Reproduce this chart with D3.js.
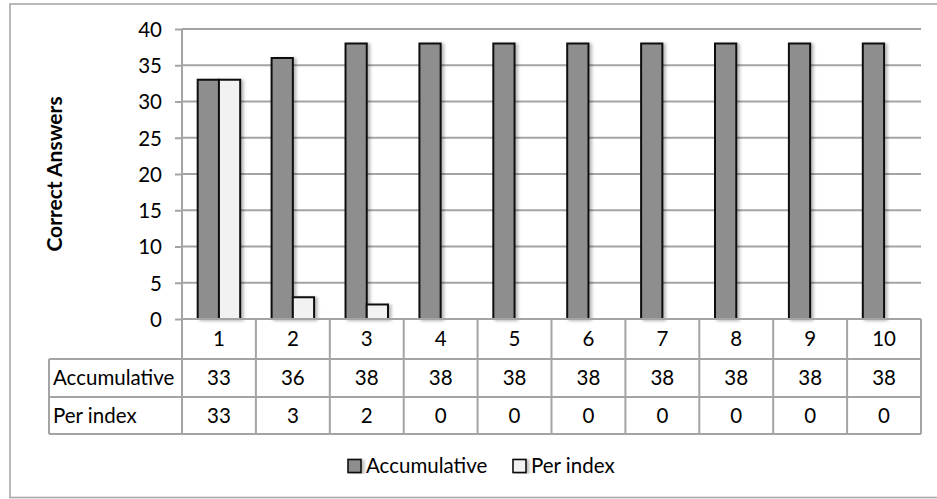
<!DOCTYPE html>
<html>
<head>
<meta charset="utf-8">
<script src="https://cdn.jsdelivr.net/npm/d3@7/dist/d3.min.js"></script>
<style>
  html, body { margin: 0; padding: 0; background: #fff; }
  svg { display: block; font-family: Lato, "Open Sans", sans-serif; }
</style>
</head>
<body>
<svg id="chart" width="937" height="499"></svg>
<script>
// Correct answers by index, cumulative and per index
const categories = ["1", "2", "3", "4", "5", "6", "7", "8", "9", "10"];
const accumulative = [33, 36, 38, 38, 38, 38, 38, 38, 38, 38];
const perIndex = [33, 3, 2, 0, 0, 0, 0, 0, 0, 0];
const yTicks = [0, 5, 10, 15, 20, 25, 30, 35, 40];
const seriesNames = ["Accumulative", "Per index"];
const seriesValues = [accumulative, perIndex];
const seriesColors = ["#8e8e8e", "#f2f2f2"];

const svg = d3.select("#chart");
const gridColor = "#a4a4a4";
const fontSize = 20.5;

const plot = { left: 182, right: 921, top: 29, bottom: 319 };
const rowLines = [319, 359, 397, 434];
const tableLeft = 49;

const x = d3.scaleBand().domain(categories).range([plot.left, plot.right]).paddingInner(0).paddingOuter(0);
const xs = d3.scaleBand().domain(seriesNames).range([0, x.bandwidth()]).paddingInner(0).paddingOuter(0.74);
const y = d3.scaleLinear().domain([0, 40]).range([plot.bottom, plot.top]);

const defs = svg.append("defs");
const shadow = defs.append("filter").attr("id", "barShadow")
  .attr("x", "-30%").attr("y", "-10%").attr("width", "170%").attr("height", "120%");
shadow.append("feDropShadow").attr("dx", 2.5).attr("dy", 1).attr("stdDeviation", 1.6)
  .attr("flood-color", "#000").attr("flood-opacity", 0.28);

// outer chart frame
svg.append("rect")
  .attr("x", 10).attr("y", 4).attr("width", 940).attr("height", 493.5)
  .attr("fill", "#fff").attr("stroke", "#a8a8a8").attr("stroke-width", 1.6);

// y axis with gridlines
const yAxis = d3.axisLeft(y).tickValues(yTicks).tickSize(7).tickPadding(13);
const yg = svg.append("g").attr("transform", `translate(${plot.left},0)`).call(yAxis);
yg.select(".domain").attr("stroke", gridColor).attr("stroke-width", 2)
  .attr("d", `M0,${plot.top}V${plot.bottom}`);
yg.selectAll(".tick line").attr("stroke", gridColor).attr("stroke-width", 2);
yg.selectAll(".tick text").attr("font-size", fontSize).attr("fill", "#000")
  .attr("font-family", "Lato, sans-serif").attr("dy", "0.36em");

svg.append("g").selectAll("line").data(yTicks.filter(t => t > 0)).join("line")
  .attr("x1", plot.left).attr("x2", plot.right)
  .attr("y1", d => y(d)).attr("y2", d => y(d))
  .attr("stroke", gridColor).attr("stroke-width", 2);

// bars
const barG = svg.append("g").attr("filter", "url(#barShadow)");
seriesNames.forEach((name, si) => {
  barG.append("g").selectAll("rect").data(seriesValues[si]).join("rect")
    .attr("x", (d, i) => x(categories[i]) + xs(name))
    .attr("y", d => y(d))
    .attr("width", xs.bandwidth())
    .attr("height", d => y(0) - y(d))
    .attr("fill", seriesColors[si])
    .attr("stroke", "#111")
    .attr("stroke-width", d => d > 0 ? 2 : 0);
});

// data table below the axis
const table = svg.append("g");
const hLines = [
  { y: rowLines[0], x1: plot.left, x2: plot.right },
  { y: rowLines[1], x1: tableLeft, x2: plot.right },
  { y: rowLines[2], x1: tableLeft, x2: plot.right },
  { y: rowLines[3], x1: tableLeft, x2: plot.right }
];
table.selectAll("line.h").data(hLines).join("line").attr("class", "h")
  .attr("x1", d => d.x1).attr("x2", d => d.x2).attr("y1", d => d.y).attr("y2", d => d.y)
  .attr("stroke", gridColor).attr("stroke-width", 2);

const colEdges = categories.map(c => x(c)).concat([plot.right]);
table.selectAll("line.v").data(colEdges).join("line").attr("class", "v")
  .attr("x1", d => d).attr("x2", d => d)
  .attr("y1", rowLines[0]).attr("y2", rowLines[3])
  .attr("stroke", gridColor).attr("stroke-width", 2);
table.append("line")
  .attr("x1", tableLeft).attr("x2", tableLeft).attr("y1", rowLines[1]).attr("y2", rowLines[3])
  .attr("stroke", gridColor).attr("stroke-width", 2);

const rowMid = i => (rowLines[i] + rowLines[i + 1]) / 2;

table.selectAll("text.cat").data(categories).join("text").attr("class", "cat")
  .attr("x", d => x(d) + x.bandwidth() / 2).attr("y", rowMid(0))
  .attr("dy", "0.36em").attr("text-anchor", "middle")
  .attr("font-size", fontSize).attr("fill", "#000").text(d => d);

seriesNames.forEach((name, si) => {
  table.append("text")
    .attr("x", 53).attr("y", rowMid(si + 1)).attr("dy", "0.36em")
    .attr("font-size", fontSize).attr("fill", "#000").text(name);
  table.append("g").selectAll("text").data(seriesValues[si]).join("text")
    .attr("x", (d, i) => x(categories[i]) + x.bandwidth() / 2).attr("y", rowMid(si + 1))
    .attr("dy", "0.36em").attr("text-anchor", "middle")
    .attr("font-size", fontSize).attr("fill", "#000").text(d => d);
});

// y axis title
svg.append("text")
  .attr("transform", `translate(62,${(plot.top + plot.bottom) / 2}) rotate(-90)`)
  .attr("text-anchor", "middle")
  .attr("font-size", 21).attr("font-weight", "bold").attr("fill", "#000")
  .text("Correct Answers");

// legend
const legendItems = [{ name: seriesNames[0], x: 348 }, { name: seriesNames[1], x: 513 }];
const legend = svg.append("g");
legendItems.forEach((item, i) => {
  legend.append("rect")
    .attr("x", item.x).attr("y", 459.5).attr("width", 13).attr("height", 13)
    .attr("fill", seriesColors[i]).attr("stroke", "#111").attr("stroke-width", 1.6)
    .attr("filter", "url(#barShadow)");
  legend.append("text")
    .attr("x", item.x + 18).attr("y", 466).attr("dy", "0.36em")
    .attr("font-size", fontSize).attr("fill", "#000").text(item.name);
});
</script>
</body>
</html>
